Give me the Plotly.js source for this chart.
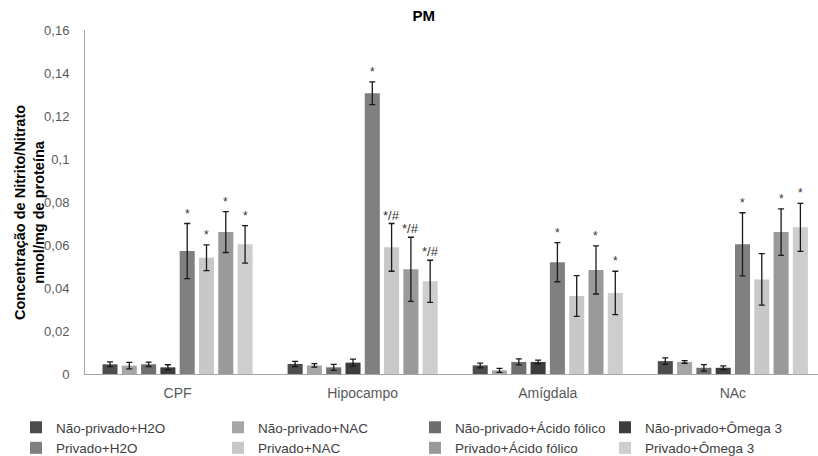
<!DOCTYPE html>
<html><head><meta charset="utf-8">
<script src="https://cdn.plot.ly/plotly-3.0.1.min.js"></script>
<style>html,body{margin:0;padding:0;background:#fff}</style></head>
<body><div id="chart" style="width:818px;height:456px"></div>
<script>
const categories = ["CPF", "Hipocampo", "Amígdala", "NAc"];
const seriesNames = ["Não-privado+H2O", "Não-privado+NAC", "Não-privado+Ácido fólico", "Não-privado+Ômega 3",
                     "Privado+H2O", "Privado+NAC", "Privado+Ácido fólico", "Privado+Ômega 3"];
const npH2O   = [0.0045, 0.0047, 0.0040, 0.0060];
const npNAC   = [0.0039, 0.0040, 0.0017, 0.0056];
const npAcido = [0.0045, 0.0031, 0.0056, 0.0029];
const npOmega = [0.0031, 0.0053, 0.0056, 0.0029];
const pH2O    = [0.0572, 0.1306, 0.0520, 0.0603];
const pNAC    = [0.0541, 0.0589, 0.0363, 0.0440];
const pAcido  = [0.0660, 0.0487, 0.0484, 0.0660];
const pOmega  = [0.0603, 0.0431, 0.0377, 0.0682];
const npH2OErr   = [0.0011, 0.0012, 0.0011, 0.0015];
const npNACErr   = [0.0015, 0.0008, 0.0009, 0.0006];
const npAcidoErr = [0.0010, 0.0014, 0.0014, 0.0015];
const npOmegaErr = [0.0012, 0.0016, 0.0009, 0.0009];
const pH2OErr    = [0.0128, 0.0053, 0.0091, 0.0147];
const pNACErr    = [0.0060, 0.0111, 0.0095, 0.0120];
const pAcidoErr  = [0.0095, 0.0149, 0.0112, 0.0108];
const pOmegaErr  = [0.0087, 0.0098, 0.0101, 0.0112];
const npLabels     = ["", "", "", ""];
const pH2OLabels   = ["*", "*", "*", "*"];
const pNACLabels   = ["*", "*/#", "", ""];
const pAcidoLabels = ["*", "*/#", "*", "*"];
const pOmegaLabels = ["*", "*/#", "*", "*"];
const yTitle = "Concentração de Nitrito/Nitrato<br>nmol/mg de proteína";
const colors = ["#4d4d4d", "#a6a6a6", "#6e6e6e", "#3d3d3d", "#808080", "#c8c8c8", "#9a9a9a", "#cecece"];

const values = [npH2O, npNAC, npAcido, npOmega, pH2O, pNAC, pAcido, pOmega];
const errors = [npH2OErr, npNACErr, npAcidoErr, npOmegaErr, pH2OErr, pNACErr, pAcidoErr, pOmegaErr];
const labels = [npLabels, npLabels, npLabels, npLabels, pH2OLabels, pNACLabels, pAcidoLabels, pOmegaLabels];

const xIdx = categories.map((c, i) => i);
const bargap = 0.166;
const font = "Liberation Sans, Arial, sans-serif";
const legendIds = ["legend", "legend2", "legend3", "legend4"];

const traces = values.map((v, i) => ({
  type: "bar",
  name: seriesNames[i],
  x: xIdx,
  y: v,
  marker: {color: colors[i]},
  error_y: {type: "data", array: errors[i], visible: true, color: "#1a1a1a", thickness: 1.3, width: 3},
  legend: legendIds[i % 4],
  hoverinfo: "name+y"
}));

const nS = values.length;
const slot = (1 - bargap) / nS;
const annotations = [];
values.forEach((v, i) => {
  v.forEach((val, j) => {
    const t = labels[i][j];
    if (!t) return;
    annotations.push({
      x: j - (1 - bargap) / 2 + slot * (i + 0.5),
      y: val + errors[i][j],
      xref: "x", yref: "y",
      text: t, showarrow: false,
      yanchor: "bottom", yshift: t.length > 1 ? -1 : 1,
      font: {family: font, size: t.length > 1 ? 13 : 12, color: "#333333"}
    });
  });
});

const mL = 85, mT = 30, mB = 82, W = 818, H = 456;
const plotW = W - mL, plotH = H - mT - mB;
// y-axis title (two bold lines, rotated)
annotations.push({
  xref: "paper", yref: "paper", x: (29 - mL) / plotW, y: (H - mB - 213) / plotH,
  xanchor: "center", yanchor: "middle", textangle: -90, showarrow: false,
  text: "<b>" + yTitle + "</b>", align: "center",
  font: {family: font, size: 14.5, color: "#000000"}
});

const legendBase = {
  orientation: "v", xref: "container", yref: "container",
  xanchor: "left", yanchor: "top",
  font: {family: font, size: 13.5, color: "#404040"},
  bgcolor: "rgba(0,0,0,0)", itemclick: false, itemdoubleclick: false,
  traceorder: "normal", tracegroupgap: 0
};
const legendLeft = [16, 218, 415, 605];

const layout = {
  width: W, height: H,
  margin: {l: mL, r: 0, t: mT, b: mB, autoexpand: false},
  paper_bgcolor: "#ffffff", plot_bgcolor: "#ffffff",
  separators: ",.",
  font: {family: font, color: "#595959"},
  title: {text: "<b>PM</b>", x: 0.518, xref: "container", xanchor: "center", y: 1 - 16 / H, yref: "container", yanchor: "middle",
          font: {family: font, size: 15, color: "#000000"}},
  barmode: "group", bargap: bargap, bargroupgap: 0.22,
  xaxis: {
    range: [-0.5, 3.46], tickvals: xIdx, ticktext: categories,
    showgrid: false, zeroline: false, showline: true, linecolor: "#a6a6a6", linewidth: 1,
    ticks: "", ticklabelstandoff: 6, automargin: false,
    tickfont: {family: font, size: 14, color: "#595959"}, fixedrange: true
  },
  yaxis: {
    range: [0, 0.16], dtick: 0.02, tick0: 0,
    showgrid: false, zeroline: false, showline: true, linecolor: "#a6a6a6", linewidth: 1,
    ticks: "", ticklabelstandoff: 12, automargin: false,
    tickfont: {family: font, size: 13, color: "#595959"},
    fixedrange: true
  },
  annotations: annotations,
  showlegend: true
};
legendIds.forEach((id, k) => {
  layout[id] = Object.assign({}, legendBase, {x: legendLeft[k] / W, y: 1 - 412 / H});
});

Plotly.newPlot("chart", traces, layout, {displayModeBar: false, staticPlot: true});
</script>
</body></html>
